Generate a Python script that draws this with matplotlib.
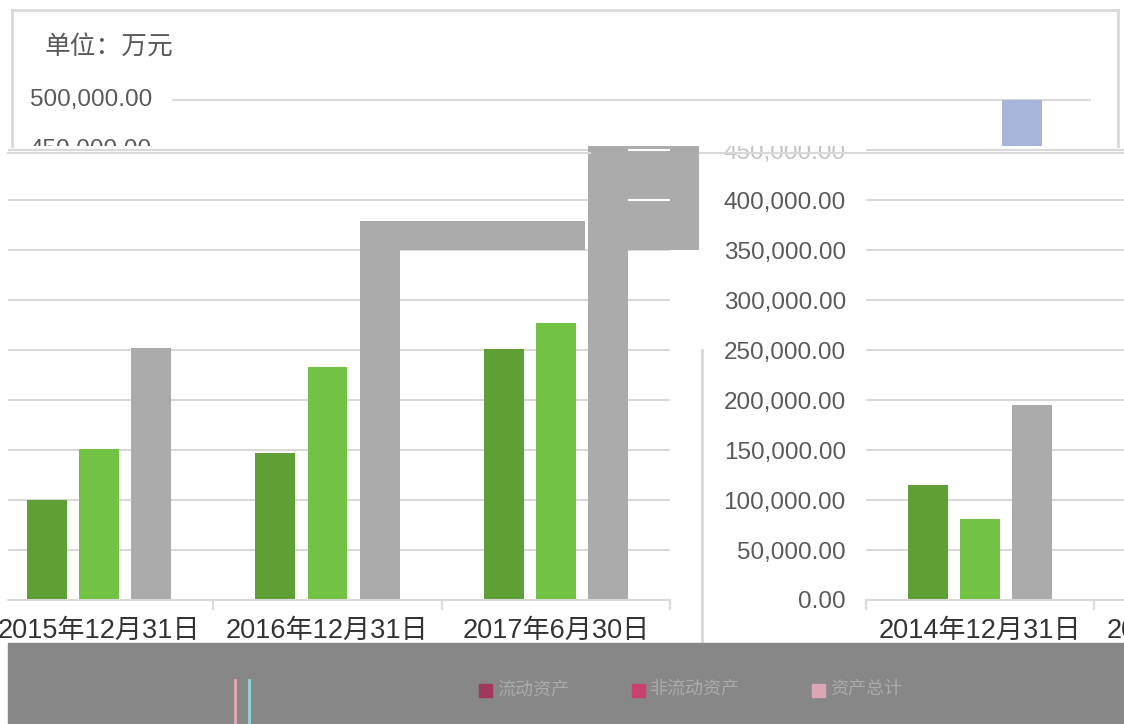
import numpy as np
import matplotlib
matplotlib.use("Agg")
import matplotlib.pyplot as plt
from matplotlib.patches import Rectangle
from matplotlib.lines import Line2D
from matplotlib.ticker import FuncFormatter

plt.rcParams["font.family"] = ["Liberation Sans", "Noto Sans CJK SC", "DejaVu Sans"]

# data (万元)
categories = ["2014年12月31日", "2015年12月31日", "2016年12月31日", "2017年6月30日"]
series_names = ["流动资产", "非流动资产", "资产总计"]
dark_vals = [115000, 100000, 147000, 251000]
light_vals = [81000, 151000, 233000, 277000]
total_vals = [195000, 252000, 379000, 500000]
y_ticks = [0, 50000, 100000, 150000, 200000, 250000, 300000, 350000, 400000, 450000]

C_DARK = "#5fa036"
C_LIGHT = "#72c243"
C_GRAY = "#ababab"
C_BLUE = "#a8b5da"
C_GRID = "#d9d9d9"
C_TXT = "#595959"
C_XTXT = "#333333"
C_BAND = "#878787"

W, H = 1124, 724
fig = plt.figure(figsize=(W / 100, H / 100), dpi=100)
fig.patch.set_facecolor("white")

BW = 0.175   # bar width in category units
OFF = 0.228  # offset of side bars
XFS = 19.5   # category label size


def px_axes(x0, y0, x1, y1, z=1):
    # box in pixels, y measured from the top
    ax = fig.add_axes([x0 / W, 1 - y1 / H, (x1 - x0) / W, (y1 - y0) / H])
    ax.set_zorder(z)
    return ax


def cat(px):
    # pixel in the unshifted chart -> category coordinate
    return (px - 172) / 228 - 0.5


def draw_bars(ax):
    x = np.arange(len(categories))
    ax.bar(x - OFF, dark_vals, BW, color=C_DARK, zorder=2)
    ax.bar(x, light_vals, BW, color=C_LIGHT, zorder=2)
    ax.bar(x + OFF, total_vals, BW, color=C_GRAY, zorder=2)


def style_main(ax):
    for s in ["top", "right", "left"]:
        ax.spines[s].set_visible(False)
    ax.spines["bottom"].set_color(C_GRID)
    ax.spines["bottom"].set_linewidth(1.5)
    ax.set_ylim(0, 454000)
    ax.set_yticks(y_ticks)
    ax.yaxis.grid(True, color=C_GRID, lw=1.5)
    ax.set_axisbelow(True)
    ax.set_xticks(range(len(categories)))
    ax.set_xticklabels(categories)
    ax.set_xticks([-0.5, 0.5, 1.5, 2.5, 3.5], minor=True)
    ax.tick_params(axis="x", which="major", length=0, pad=13, labelsize=XFS,
                   labelcolor=C_XTXT)
    ax.tick_params(axis="x", which="minor", length=7.5, width=1.5, color=C_GRID)
    ax.set_facecolor("white")


# ---- main band, left part (2015-2017) ----
ax_l = px_axes(8, 146, 670, 600)
draw_bars(ax_l)
style_main(ax_l)
ax_l.set_xlim(cat(8 + 415), 3.5)
ax_l.tick_params(axis="y", length=0, labelleft=False)
# smeared grey blocks of the picture
ax_l.add_patch(Rectangle((2 + OFF - BW / 2, 350000), 1 - 3 / 228, total_vals[2] - 350000,
                         color=C_GRAY, zorder=2, lw=0))
ax_l.add_patch(Rectangle((3 + OFF + BW / 2, 350000), cat(698 + 415) - (3 + OFF + BW / 2),
                         104000, color=C_GRAY, zorder=2, lw=0, clip_on=False))
ax_l.hlines([400000, 450000], 3 + OFF + BW / 2, 3.5, color="white", lw=1.5, zorder=3)

# ---- main band, right part (axis + 2014) ----
ax_r = px_axes(866, 146, 1124, 600)
draw_bars(ax_r)
style_main(ax_r)
ax_r.set_xlim(-0.5, cat(430))
ax_r.yaxis.set_major_formatter(FuncFormatter(lambda v, p: f"{v:,.2f}"))
ax_r.tick_params(axis="y", length=0, pad=14.5, labelsize=17.5, labelcolor=C_TXT)
ax_r.get_yticklabels()[-1].set_color("#c4c4c4")
ax_r.annotate(categories[1], xy=(1, 0), xycoords=("data", "axes fraction"),
              xytext=(0, -13), textcoords="offset points", ha="center", va="top",
              fontsize=XFS, color=C_XTXT, annotation_clip=False)

# ---- top band (unshifted) ----
ax_t = px_axes(12, 10, 1118, 146, z=2)
ax_t.set_xlim(cat(12), cat(1118))
ax_t.set_ylim(454000, 590000)
ax_t.bar([3 + OFF], [total_vals[3]], BW, color=C_BLUE, zorder=2)
ax_t.hlines([500000], -0.5, 3.53, color=C_GRID, lw=1.5, zorder=1)
ax_t.text(cat(152), 500000, "500,000.00", ha="right", va="center", fontsize=17.5,
          color=C_TXT)
ax_t.text(cat(152), 450000, "450,000.00", ha="right", va="center", fontsize=17.5,
          color=C_TXT, clip_on=True)
ax_t.text(cat(45), 552000, "单位：万元", ha="left", va="center", fontsize=18.5,
          color=C_TXT)
ax_t.set_xticks([])
ax_t.set_yticks([])
for s in ["top", "left", "right"]:
    ax_t.spines[s].set_color(C_GRID)
    ax_t.spines[s].set_linewidth(2)
ax_t.spines["bottom"].set_visible(False)

# thin separator lines between bands
fig.add_artist(Line2D([8 / W, 590 / W], [1 - 153 / H] * 2, color=C_GRID, lw=1.5, zorder=5))
fig.add_artist(Line2D([700 / W, 1], [1 - 153 / H] * 2, color=C_GRID, lw=1.5, zorder=5))
# vertical plot border remnant
fig.add_artist(Line2D([702 / W] * 2, [1 - 350 / H, 1 - 643 / H], color=C_GRID, lw=2, zorder=5))

# ---- grey legend band ----
fig.add_artist(Rectangle((8 / W, 0), (W - 8) / W, (724 - 643) / H, transform=fig.transFigure,
                         color=C_BAND, zorder=10))
for xv, c in [(235, "#e7a9b8"), (249, "#8fd6dc")]:
    fig.add_artist(Line2D([xv / W] * 2, [1 - 680 / H, 1 - 722 / H], color=c, lw=2, zorder=11))

leg_colors = ["#a3365d", "#c9406f", "#dca7b5"]
leg_x = [479, 632, 812]
for xv, c, name in zip(leg_x, leg_colors, series_names):
    fig.add_artist(Rectangle((xv / W, 1 - 697 / H), 13 / W, 13 / H, transform=fig.transFigure,
                             color=c, zorder=11))
    fig.text((xv + 18) / W, 1 - 690 / H, name, fontsize=13, color="#ababab",
             ha="left", va="center", zorder=11)

fig.savefig("out.png", dpi=100, facecolor="white")
